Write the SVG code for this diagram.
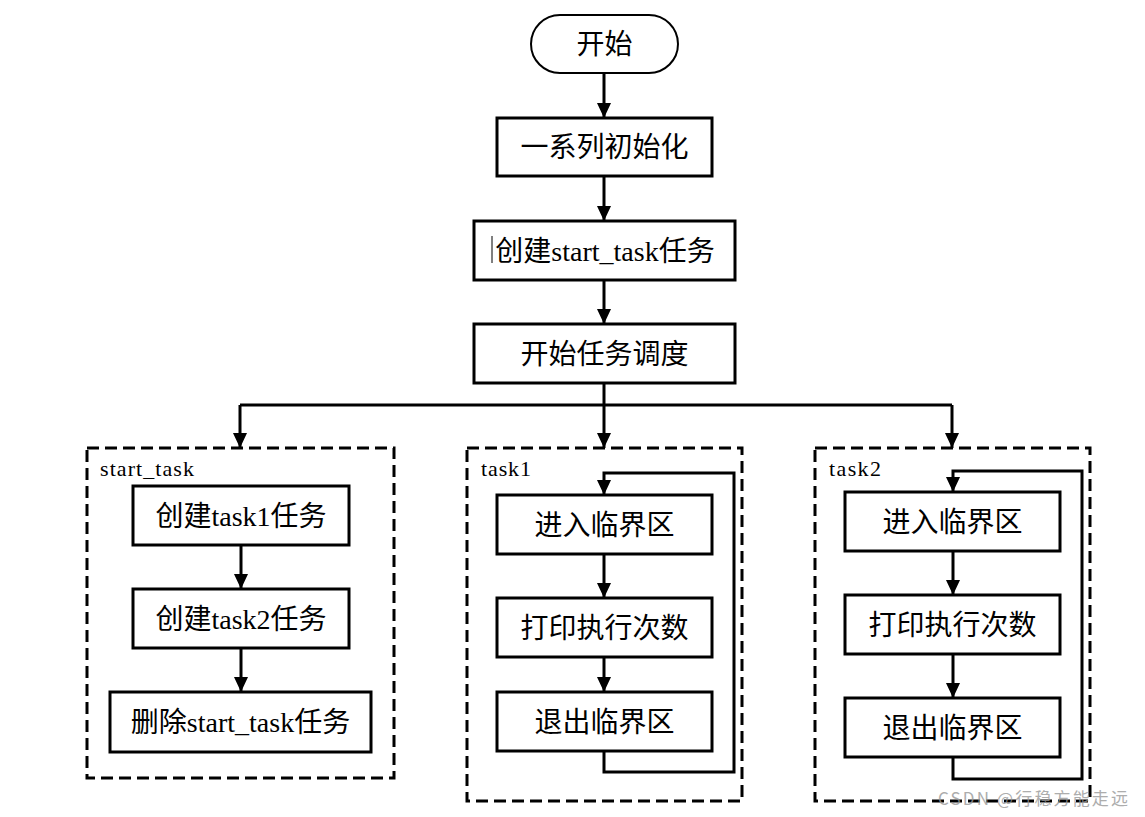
<svg xmlns="http://www.w3.org/2000/svg" width="1145" height="817" viewBox="0 0 1145 817">
<style>
.box{fill:#fff;stroke:#000;stroke-width:3}
.dash{fill:none;stroke:#000;stroke-width:3;stroke-dasharray:12 6}
.t{font-family:"Liberation Serif","Noto Sans CJK SC",serif;font-size:28px;fill:#000;text-anchor:middle}
.lbl{font-family:"Liberation Serif",serif;font-size:22px;fill:#000}
.c{fill:none;stroke:#000;stroke-width:3}
.wm{font-family:"Noto Sans CJK SC","Liberation Sans",sans-serif;font-size:17px;fill:#999;opacity:0.8}
</style>
<defs>
<marker id="ah" markerUnits="userSpaceOnUse" markerWidth="16" markerHeight="16" refX="15" refY="7" orient="auto" viewBox="0 0 16 14">
<path d="M0,0 L15,7 L0,14 Z" fill="#000"/>
</marker>
</defs>
<rect width="1145" height="817" fill="#fff"/>
<g id="containers">
<rect id="start_task_group" class="dash" x="87" y="448" width="307" height="330"/>
<text class="lbl" x="100" y="476" textLength="94">start_task</text>
<rect id="task1_group" class="dash" x="467" y="448" width="275" height="353"/>
<text class="lbl" x="481" y="476" textLength="50">task1</text>
<rect id="task2_group" class="dash" x="815" y="448" width="275" height="353"/>
<text class="lbl" x="829" y="476" textLength="52">task2</text>
</g>
<g id="connectors">
<line class="c" x1="604" y1="73" x2="604" y2="118" marker-end="url(#ah)"/>
<line class="c" x1="604" y1="176" x2="604" y2="221" marker-end="url(#ah)"/>
<line class="c" x1="604" y1="280" x2="604" y2="324" marker-end="url(#ah)"/>
<polyline class="c" points="604,383 604,405"/>
<polyline class="c" points="240,405 952,405"/>
<line class="c" x1="240" y1="405" x2="240" y2="448" marker-end="url(#ah)"/>
<line class="c" x1="604" y1="405" x2="604" y2="448" marker-end="url(#ah)"/>
<line class="c" x1="952" y1="405" x2="952" y2="448" marker-end="url(#ah)"/>
<line class="c" x1="241" y1="545" x2="241" y2="589" marker-end="url(#ah)"/>
<line class="c" x1="241" y1="648" x2="241" y2="692" marker-end="url(#ah)"/>
<line class="c" x1="604" y1="554" x2="604" y2="598" marker-end="url(#ah)"/>
<line class="c" x1="604" y1="657" x2="604" y2="692" marker-end="url(#ah)"/>
<polyline class="c" points="604,751 604,772 734,772 734,473 604,473 604,495" marker-end="url(#ah)"/>
<line class="c" x1="953" y1="551" x2="953" y2="595" marker-end="url(#ah)"/>
<line class="c" x1="953" y1="654" x2="953" y2="698" marker-end="url(#ah)"/>
<polyline class="c" points="953,757 953,779 1082,779 1082,471 953,471 953,492" marker-end="url(#ah)"/>
</g>
<g id="start">
<rect x="531" y="15" width="147" height="58" rx="29" ry="29" fill="#fff" stroke="#000" stroke-width="2"/>
<text class="t" x="604.5" y="54">开始</text>
</g>
<g id="init">
<rect class="box" x="497" y="118" width="215" height="58"/>
<text class="t" x="604.5" y="157">一系列初始化</text>
</g>
<g id="create_start_task">
<rect class="box" x="474" y="221" width="261" height="59"/>
<line x1="492" y1="236" x2="492" y2="263" stroke="#000" stroke-width="1"/>
<text class="t" x="605" y="261">创建start_task任务</text>
</g>
<g id="schedule">
<rect class="box" x="474" y="324" width="261" height="59"/>
<text class="t" x="604.5" y="364">开始任务调度</text>
</g>
<g id="create_task1">
<rect class="box" x="133" y="486" width="216" height="59"/>
<text class="t" x="241" y="526">创建task1任务</text>
</g>
<g id="create_task2">
<rect class="box" x="133" y="589" width="216" height="59"/>
<text class="t" x="241" y="629">创建task2任务</text>
</g>
<g id="delete_start_task">
<rect class="box" x="110" y="692" width="261" height="60"/>
<text class="t" x="240.5" y="732">删除start_task任务</text>
</g>
<g id="t1_enter">
<rect class="box" x="497" y="495" width="215" height="59"/>
<text class="t" x="604.5" y="535">进入临界区</text>
</g>
<g id="t1_print">
<rect class="box" x="497" y="598" width="215" height="59"/>
<text class="t" x="604.5" y="638">打印执行次数</text>
</g>
<g id="t1_exit">
<rect class="box" x="497" y="692" width="215" height="59"/>
<text class="t" x="604.5" y="732">退出临界区</text>
</g>
<g id="t2_enter">
<rect class="box" x="845" y="492" width="215" height="59"/>
<text class="t" x="952.5" y="532">进入临界区</text>
</g>
<g id="t2_print">
<rect class="box" x="845" y="595" width="215" height="59"/>
<text class="t" x="952.5" y="635">打印执行次数</text>
</g>
<g id="t2_exit">
<rect class="box" x="845" y="698" width="215" height="59"/>
<text class="t" x="952.5" y="738">退出临界区</text>
</g>
<text class="wm" x="938" y="805" textLength="190">CSDN @行稳方能走远</text>
</svg>
